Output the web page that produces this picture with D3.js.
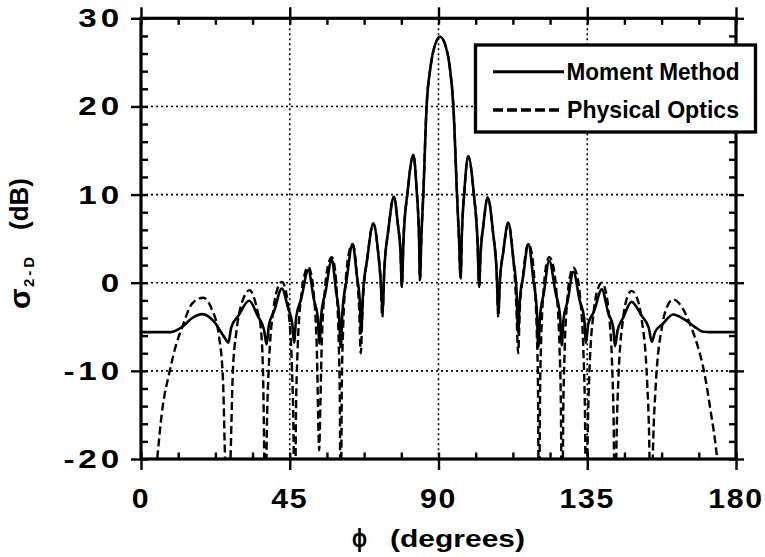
<!DOCTYPE html>
<html><head><meta charset="utf-8">
<script src="https://cdn.jsdelivr.net/npm/d3@7"></script>
<style>
body{margin:0;background:#fff;}
svg{display:block;}
text{font-family:"Liberation Sans",Arial,Helvetica,sans-serif;font-weight:bold;fill:#000;}
</style></head><body>
<svg id="chart" width="765" height="557"></svg>
<script>
// ---------- data ----------
const xTicks = [0, 45, 90, 135, 180];
const yTicks = [-20, -10, 0, 10, 20, 30];
const xMinor = [0, 11.25, 22.5, 33.75, 45, 56.25, 67.5, 78.75, 90, 101.25, 112.5, 123.75, 135, 146.25, 157.5, 168.75, 180];
const yMinor = [-20, -18, -16, -14, -12, -10, -8, -6, -4, -2, 0, 2, 4, 6, 8, 10, 12, 14, 16, 18, 20, 22, 24, 26, 28, 30];
const xGrid = [45, 90, 135];
const yGrid = [-10, 0, 10, 20];
const legendLabels = ["Moment Method", "Physical Optics"];
const xTitle = ["ϕ", "(degrees)"];
const yTitle = ["σ", "2-D", "(dB)"];

// Moment Method (solid)
const phiMM = [0, 9.0, 12.5, 15.5, 18.5, 22.5, 24.5, 25.6, 26.4, 27.3, 29.55, 32.7, 35.35, 37.2, 38.0,
  38.7, 40.3, 42.6, 44.45, 45.75, 46.3, 46.95, 48.45, 50.6, 52.3, 53.5, 54.0, 54.55, 55.85, 57.7, 59.05, 59.95, 60.4,
  60.95, 62.2, 64.0, 65.3, 66.2, 66.6, 67.15, 68.45, 70.3, 71.7, 72.5, 73.1, 73.6, 74.8, 76.5, 77.7, 78.55, 78.9,
  79.4, 80.65, 82.4, 83.4, 84.1, 84.4, 84.8, 85.4, 86.4, 87.6, 88.8, 90.5, 92.2, 93.4, 94.5, 95.6, 96.2, 96.7,
  97.05, 97.85, 99.0, 100.65, 101.8, 102.3, 102.7, 103.6, 104.9, 106.5, 107.6, 108.1, 108.55, 109.6, 111.1, 112.6, 113.65, 114.1,
  114.55, 115.65, 117.2, 118.7, 119.75, 120.2, 120.7, 121.85, 123.5, 125.4, 126.75, 127.3, 127.8, 129.05, 130.8, 132.7, 134.05, 134.6,
  135.3, 137.0, 139.4, 141.4, 142.8, 143.4, 144.15, 145.9, 148.4, 151.45, 153.6, 154.5, 155.5, 157.75, 161.0, 164.5, 167.5, 170.1, 172.0, 180];
const dbMM = [-5.6, -5.6, -5.0, -4.0, -3.56, -4.6, -5.8, -6.4, -6.8, -5.1, -3.7, -2.05, -3.8, -5.3, -7.0,
  -4.8, -3.2, -0.65, -2.8, -4.65, -6.8, -3.9, -1.86, 1.43, -1.9, -4.0, -6.9, -3.6, -1.0, 2.64, -1.1, -3.8, -7.3,
  -3.2, 0.3, 4.38, 0.85, -2.2, -5.7, -1.35, 2.75, 6.72, 3.6, 0.3, -3.1, 1.4, 5.9, 9.74, 6.65, 3.1, -0.46,
  4.8, 10.3, 14.5, 10.5, 5.3, 0.3, 5.0, 10.0, 20.0, 24.5, 26.8, 27.9, 26.8, 24.5, 20.0, 10.0, 5.0, 0.49,
  5.3, 10.5, 14.35, 10.2, 4.7, -0.46, 3.1, 6.6, 9.67, 5.7, 1.1, -3.5, 0.1, 3.5, 6.8, 2.8, -1.3, -5.7,
  -2.2, 0.85, 4.38, 0.3, -3.2, -7.3, -3.9, -1.2, 2.5, -1.1, -3.7, -7.1, -4.2, -2.1, 1.24, -2.0, -4.0, -6.8,
  -4.7, -3.3, -0.76, -3.5, -4.95, -7.2, -5.45, -3.95, -2.17, -3.75, -5.1, -6.7, -5.6, -4.7, -3.6, -4.2, -5.0, -5.57, -5.6, -5.6];

// Physical Optics (dashed)
const phiPO = [3.9, 4.9, 6.3, 8.7, 10.5, 12.5, 15.5, 18.8, 21.3, 23.6, 24.8, 25.4, 26.2,
  27.1, 27.8, 28.8, 30.5, 32.9, 34.1, 35.3, 36.2, 36.9, 37.3, 37.6,
  38.1, 38.6, 40.1, 41.35, 42.6, 43.6, 44.55, 45.7, 46.1, 46.5,
  46.9, 47.3, 48.55, 49.6, 50.6, 51.4, 52.25, 53.25, 53.55, 53.9,
  54.3, 54.65, 55.8, 56.75, 57.7, 58.4, 59.05, 59.85, 60.15, 60.4,
  60.75, 61.1, 62.2, 63.1, 64.0, 64.6, 65.3, 66.0, 66.5,
  67.0, 68.45, 70.3, 71.7, 72.5, 73.0, 73.6, 74.8, 76.5, 77.7, 78.55, 78.9,
  79.4, 80.65, 82.4, 83.4, 84.1, 84.4, 84.8, 85.4, 86.4, 87.6, 88.8, 90.5, 92.2, 93.4, 94.5, 95.6, 96.2, 96.7,
  97.05, 97.85, 99.0, 100.65, 101.8, 102.3, 102.7, 103.6, 104.9, 106.5, 107.6, 108.1,
  108.55, 109.6, 111.1, 112.6, 113.5, 114.1, 114.6, 115.65, 116.5, 117.2, 118.0, 118.8, 119.75, 120.1, 120.4,
  120.7, 121.0, 121.95, 122.7, 123.5, 124.5, 125.45, 126.6, 127.0, 127.4,
  127.75, 128.1, 129.1, 129.95, 130.8, 131.8, 132.75, 133.9, 134.3, 134.7,
  135.2, 135.65, 137.05, 138.2, 139.4, 140.4, 141.4, 142.6, 143.0, 143.4,
  143.9, 144.4, 145.9, 147.15, 148.4, 149.9, 151.35, 153.1, 153.7, 154.3,
  154.95, 155.65, 157.65, 159.3, 161.0, 164.0, 166.6, 168.5, 170.3, 172.3, 174.3, 175.2];
const dbPO = [-24, -20, -14.8, -10, -7.2, -5.0, -2.35, -1.7, -2.9, -6.1, -11, -19.7, -30,
  -19.7, -10, -5.75, -2.3, -0.84, -1.6, -3.3, -5.0, -10, -20, -30,
  -16, -10.1, -2.9, -0.6, 0.1, -0.6, -2.9, -10.1, -16, -30,
  -14.3, -8.4, -1.2, 1.1, 1.8, 1.1, -1.2, -8.4, -14.3, -19,
  -13.2, -7.3, -0.1, 2.2, 2.9, 2.2, -0.1, -7.3, -13.2, -30,
  -11.7, -5.8, 1.4, 3.7, 4.38, 3.7, 0.85, -3.0, -8.0,
  -3.0, 2.75, 6.72, 3.6, 0.3, -3.9, 1.4, 5.9, 9.74, 6.65, 3.1, -0.46,
  4.8, 10.3, 14.5, 10.5, 5.3, 0.3, 5.0, 10.0, 20.0, 24.5, 26.8, 27.9, 26.8, 24.5, 20.0, 10.0, 5.0, 0.49,
  5.3, 10.5, 14.35, 10.2, 4.7, -0.46, 3.1, 6.6, 9.67, 5.7, 1.1, -3.9,
  0.1, 3.5, 6.8, 2.8, -2.2, -8.0, -3.0, 1.0, 3.7, 4.4, 3.7, 1.4, -5.8, -11.7, -30,
  -13.2, -7.3, -0.1, 2.2, 2.9, 2.2, -0.1, -7.3, -13.2, -30,
  -14.4, -8.5, -1.3, 1.0, 1.7, 1.0, -1.3, -8.5, -14.4, -30,
  -16.1, -10.2, -3.0, -0.7, 0.0, -0.7, -3.0, -10.2, -16.1, -30,
  -17, -11.1, -3.9, -1.6, -0.92, -1.6, -3.9, -11.1, -17, -30,
  -18, -12.1, -4.9, -2.6, -1.9, -3.0, -5.2, -7.3, -10, -14.5, -20, -24];

// ---------- chart ----------
const svg = d3.select("#chart");
const x = d3.scaleLinear().domain([0, 180]).range([141, 736]);
const y = d3.scaleLinear().domain([-20, 30]).range([459, 18.3]);
const X0 = x(0), X1 = x(180), Y0 = y(-20), Y1 = y(30);

svg.append("rect").attr("width", 765).attr("height", 557).attr("fill", "#fff");

svg.append("defs").append("clipPath").attr("id", "plotclip")
  .append("rect").attr("x", X0).attr("y", Y1).attr("width", X1 - X0).attr("height", Y0 - Y1);

// grid
const grid = svg.append("g").attr("stroke", "#000").attr("stroke-width", 1.6).attr("stroke-dasharray", "2,3");
grid.selectAll(".gx").data(xGrid).join("line")
  .attr("x1", d => x(d)).attr("x2", d => x(d)).attr("y1", Y1).attr("y2", Y0);
grid.selectAll(".gy").data(yGrid).join("line")
  .attr("y1", d => y(d)).attr("y2", d => y(d)).attr("x1", X0).attr("x2", X1);

// curves
const lineGen = (px, py) => d3.line().curve(d3.curveMonotoneX)
  .x((d, i) => x(px[i])).y((d, i) => y(py[i]))(px);
const curves = svg.append("g").attr("clip-path", "url(#plotclip)").attr("fill", "none").attr("stroke", "#000");
curves.append("path").attr("d", lineGen(phiPO, dbPO)).attr("stroke-width", 2.4).attr("stroke-dasharray", "8,4");
curves.append("path").attr("d", lineGen(phiMM, dbMM)).attr("stroke-width", 2.6);

// axes (ticks via d3.axis)
function styleAxis(g) {
  g.select(".domain").remove();
  g.selectAll(".tick line").attr("stroke", "#000").attr("stroke-width", 2.4);
  g.selectAll(".tick text").remove();
}
svg.append("g").attr("transform", `translate(0,${Y0})`).call(d3.axisBottom(x).tickValues(xTicks).tickSize(11).tickFormat("")).call(styleAxis);
svg.append("g").attr("transform", `translate(0,${Y0})`).call(d3.axisTop(x).tickValues(xMinor).tickSize(6.5).tickFormat("")).call(styleAxis);
svg.append("g").attr("transform", `translate(0,${Y1})`).call(d3.axisTop(x).tickValues(xTicks).tickSize(11).tickFormat("")).call(styleAxis);
svg.append("g").attr("transform", `translate(0,${Y1})`).call(d3.axisBottom(x).tickValues(xMinor).tickSize(6.5).tickFormat("")).call(styleAxis);
svg.append("g").attr("transform", `translate(${X0},0)`).call(d3.axisLeft(y).tickValues(yTicks).tickSize(10).tickFormat("")).call(styleAxis);
svg.append("g").attr("transform", `translate(${X0},0)`).call(d3.axisRight(y).tickValues(yMinor).tickSize(7).tickFormat("")).call(styleAxis);
svg.append("g").attr("transform", `translate(${X1},0)`).call(d3.axisRight(y).tickValues(yTicks).tickSize(8).tickFormat("")).call(styleAxis);
svg.append("g").attr("transform", `translate(${X1},0)`).call(d3.axisLeft(y).tickValues(yMinor).tickSize(7).tickFormat("")).call(styleAxis);

// frame
svg.append("rect").attr("x", X0).attr("y", Y1).attr("width", X1 - X0).attr("height", Y0 - Y1)
  .attr("fill", "none").attr("stroke", "#000").attr("stroke-width", 3.2);

// tick labels
svg.append("g").selectAll("text").data(yTicks).join("text")
  .attr("transform", d => `translate(123,${y(d) + 9}) scale(1.3,1)`)
  .attr("text-anchor", "end").attr("font-size", 25.5).attr("letter-spacing", 3)
  .text(d => String(d));
svg.append("g").selectAll("text").data(xTicks).join("text")
  .attr("transform", d => `translate(${x(d)},508) scale(1.1,1)`)
  .attr("text-anchor", "middle").attr("font-size", 27.5).attr("letter-spacing", 1.5)
  .text(d => String(d));

// axis titles
svg.append("text").attr("x", 352).attr("y", 547).attr("font-size", 26)
  .attr("textLength", 15).attr("lengthAdjust", "spacingAndGlyphs").text(xTitle[0]);
svg.append("text").attr("x", 390).attr("y", 547).attr("font-size", 24)
  .attr("textLength", 135).attr("lengthAdjust", "spacingAndGlyphs").text(xTitle[1]);

const yt = svg.append("text").attr("transform", "translate(30,309) rotate(-90)");
yt.append("tspan").attr("x", 0).attr("font-size", 30).text(yTitle[0]);
yt.append("tspan").attr("x", 22).attr("dy", 4).attr("font-size", 15).attr("letter-spacing", 3).text(yTitle[1]);
yt.append("tspan").attr("x", 79).attr("dy", -6).attr("font-size", 26).text(yTitle[2]);

// legend
const lg = svg.append("g");
lg.append("rect").attr("x", 475.5).attr("y", 45).attr("width", 280).attr("height", 87)
  .attr("fill", "#fff").attr("stroke", "#000").attr("stroke-width", 3.3);
lg.append("line").attr("x1", 493).attr("x2", 564).attr("y1", 71.7).attr("y2", 71.7)
  .attr("stroke", "#000").attr("stroke-width", 3);
lg.append("line").attr("x1", 493).attr("x2", 561).attr("y1", 110).attr("y2", 110)
  .attr("stroke", "#000").attr("stroke-width", 3.4).attr("stroke-dasharray", "10,4");
lg.append("text").attr("x", 566.5).attr("y", 80).attr("font-size", 24)
  .attr("textLength", 173).attr("lengthAdjust", "spacingAndGlyphs").text(legendLabels[0]);
lg.append("text").attr("x", 567).attr("y", 117.5).attr("font-size", 24)
  .attr("textLength", 172).attr("lengthAdjust", "spacingAndGlyphs").text(legendLabels[1]);
</script>
</body></html>
